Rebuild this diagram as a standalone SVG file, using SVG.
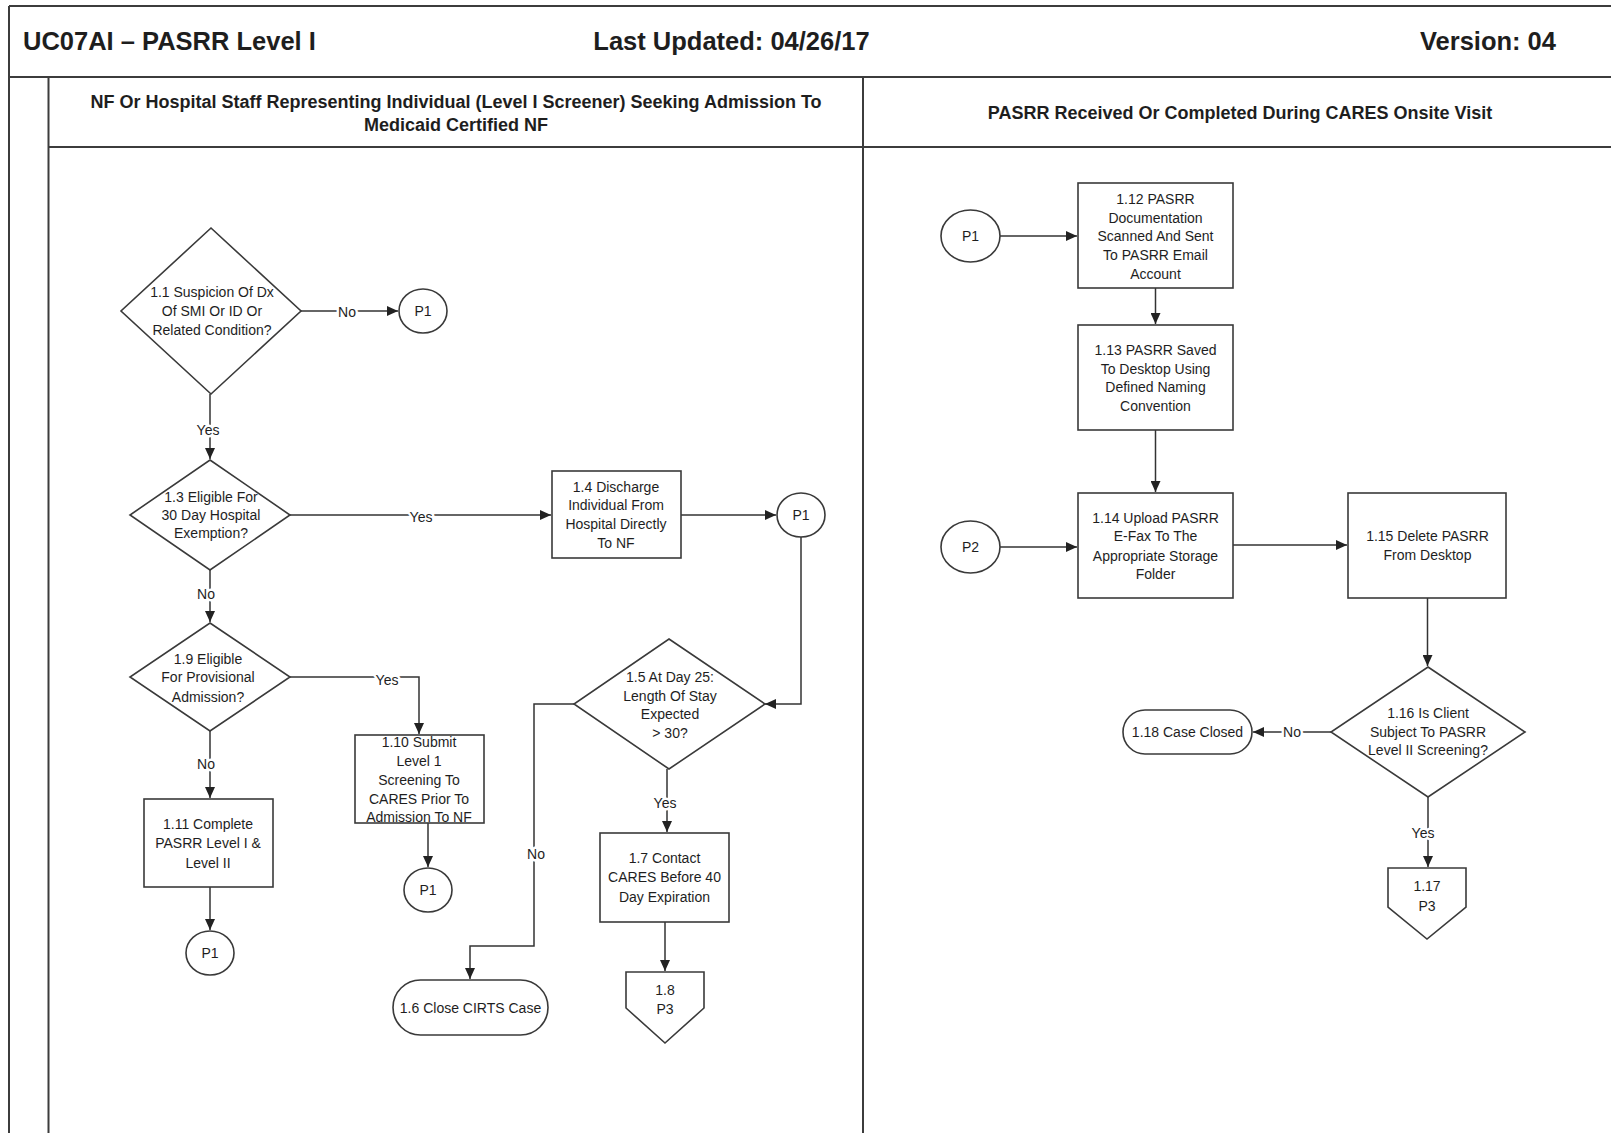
<svg xmlns="http://www.w3.org/2000/svg" width="1611" height="1133" viewBox="0 0 1611 1133">
<style>
.frame{stroke:#3c3c3c;stroke-width:2;fill:none}
.shape{fill:#fff;stroke:#3a3a3a;stroke-width:1.6}
.conn{fill:none;stroke:#333;stroke-width:1.5}
text{font-family:"Liberation Sans",Arial,sans-serif;fill:#1e1e1e}
.t{font-size:14px;text-anchor:middle;dominant-baseline:central}
.lbl{font-size:14px;text-anchor:middle;dominant-baseline:central;stroke:#fff;stroke-width:5px;paint-order:stroke;stroke-linejoin:round}
.title{font-size:25.5px;font-weight:bold}
.hdr{font-size:18px;font-weight:bold;text-anchor:middle;dominant-baseline:central}
</style>
<defs>
<marker id="arr" markerUnits="userSpaceOnUse" markerWidth="12" markerHeight="10" refX="11" refY="5" orient="auto">
<path d="M0,0 L11,5 L0,10 z" fill="#222"/>
</marker>
</defs>
<rect width="1611" height="1133" fill="#fff"/>
<g id="frame">
<line class="frame" x1="9" y1="6" x2="1611" y2="6"/>
<line class="frame" x1="9" y1="6" x2="9" y2="1133"/>
<line class="frame" x1="9" y1="77" x2="1611" y2="77"/>
<line class="frame" x1="48.5" y1="77" x2="48.5" y2="1133"/>
<line class="frame" x1="48.5" y1="147" x2="1611" y2="147"/>
<line class="frame" x1="863" y1="77" x2="863" y2="1133"/>
<text class="title" x="23" y="50">UC07AI – PASRR Level I</text>
<text class="title" x="731.5" y="50" text-anchor="middle">Last Updated: 04/26/17</text>
<text class="title" x="1556" y="50" text-anchor="end">Version: 04</text>
<text class="hdr" x="456" y="101.5">NF Or Hospital Staff Representing Individual (Level I Screener) Seeking Admission To</text>
<text class="hdr" x="456" y="124.5">Medicaid Certified NF</text>
<text class="hdr" x="1240" y="113">PASRR Received Or Completed During CARES Onsite Visit</text>
</g>
<g id="connectors">
<path class="conn" d="M301,311 H398" marker-end="url(#arr)"/>
<path class="conn" d="M210,394 V459" marker-end="url(#arr)"/>
<path class="conn" d="M290,515 H551" marker-end="url(#arr)"/>
<path class="conn" d="M681,515 H776" marker-end="url(#arr)"/>
<path class="conn" d="M801,537 V704 H765" marker-end="url(#arr)"/>
<path class="conn" d="M574,704 H534 V946 H470 V979" marker-end="url(#arr)"/>
<path class="conn" d="M667,769 V832" marker-end="url(#arr)"/>
<path class="conn" d="M665,922 V971" marker-end="url(#arr)"/>
<path class="conn" d="M210,570 V622" marker-end="url(#arr)"/>
<path class="conn" d="M290,677 H419 V734" marker-end="url(#arr)"/>
<path class="conn" d="M428,823 V867" marker-end="url(#arr)"/>
<path class="conn" d="M210,731 V798" marker-end="url(#arr)"/>
<path class="conn" d="M210,887 V930" marker-end="url(#arr)"/>
<path class="conn" d="M1000,236 H1077" marker-end="url(#arr)"/>
<path class="conn" d="M1155.5,288 V324" marker-end="url(#arr)"/>
<path class="conn" d="M1155.5,430 V492" marker-end="url(#arr)"/>
<path class="conn" d="M1000,547 H1077" marker-end="url(#arr)"/>
<path class="conn" d="M1233,545 H1347" marker-end="url(#arr)"/>
<path class="conn" d="M1427.5,598 V666" marker-end="url(#arr)"/>
<path class="conn" d="M1331,732 H1253" marker-end="url(#arr)"/>
<path class="conn" d="M1428,797 V867" marker-end="url(#arr)"/>
<text class="lbl" x="347" y="312">No</text>
<text class="lbl" x="208" y="430">Yes</text>
<text class="lbl" x="421" y="517">Yes</text>
<text class="lbl" x="536" y="854">No</text>
<text class="lbl" x="665" y="803">Yes</text>
<text class="lbl" x="206" y="594">No</text>
<text class="lbl" x="387" y="680">Yes</text>
<text class="lbl" x="206" y="764">No</text>
<text class="lbl" x="1292" y="732">No</text>
<text class="lbl" x="1423" y="833">Yes</text>
</g>
<g id="n1_1">
<polygon class="shape" points="211,228 301,311 211,394 121,311"/>
<text class="t" x="212" y="292">1.1 Suspicion Of Dx</text>
<text class="t" x="212" y="311">Of SMI Or ID Or</text>
<text class="t" x="212" y="330">Related Condition?</text>
</g>
<g id="p1_a">
<ellipse class="shape" cx="423" cy="311" rx="24" ry="22"/>
<text class="t" x="423" y="311">P1</text>
</g>
<g id="n1_3">
<polygon class="shape" points="210,460 290,515 210,570 130,515"/>
<text class="t" x="211" y="497">1.3 Eligible For</text>
<text class="t" x="211" y="515">30 Day Hospital</text>
<text class="t" x="211" y="533">Exemption?</text>
</g>
<g id="n1_4">
<rect class="shape" x="552" y="471" width="129" height="87"/>
<text class="t" x="616" y="487">1.4 Discharge</text>
<text class="t" x="616" y="505">Individual  From</text>
<text class="t" x="616" y="524">Hospital Directly</text>
<text class="t" x="616" y="543">To NF</text>
</g>
<g id="p1_b">
<ellipse class="shape" cx="801" cy="515" rx="24" ry="22"/>
<text class="t" x="801" y="515">P1</text>
</g>
<g id="n1_5">
<polygon class="shape" points="669,639 765,704 669,769 574,704"/>
<text class="t" x="670" y="677">1.5 At Day 25:</text>
<text class="t" x="670" y="696">Length Of Stay</text>
<text class="t" x="670" y="714">Expected</text>
<text class="t" x="670" y="733">&gt; 30?</text>
</g>
<g id="n1_6">
<rect class="shape" x="393" y="980" width="155" height="55" rx="27.5"/>
<text class="t" x="470.5" y="1007.5">1.6 Close CIRTS Case</text>
</g>
<g id="n1_7">
<rect class="shape" x="600" y="833" width="129" height="89"/>
<text class="t" x="664.5" y="858">1.7 Contact</text>
<text class="t" x="664.5" y="877">CARES Before 40</text>
<text class="t" x="664.5" y="897">Day Expiration</text>
</g>
<g id="n1_8">
<polygon class="shape" points="626,972 704,972 704,1008 665,1043 626,1008"/>
<text class="t" x="665" y="990">1.8</text>
<text class="t" x="665" y="1009">P3</text>
</g>
<g id="n1_9">
<polygon class="shape" points="210,623 290,677 210,731 130,677"/>
<text class="t" x="208" y="659">1.9 Eligible</text>
<text class="t" x="208" y="677">For Provisional</text>
<text class="t" x="208" y="697">Admission?</text>
</g>
<g id="n1_10">
<rect class="shape" x="355" y="735" width="129" height="88"/>
<text class="t" x="419" y="742">1.10 Submit</text>
<text class="t" x="419" y="761">Level 1</text>
<text class="t" x="419" y="780">Screening To</text>
<text class="t" x="419" y="799">CARES Prior To</text>
<text class="t" x="419" y="817">Admission To NF</text>
</g>
<g id="p1_d">
<ellipse class="shape" cx="428" cy="890" rx="24" ry="22"/>
<text class="t" x="428" y="890">P1</text>
</g>
<g id="n1_11">
<rect class="shape" x="144" y="799" width="129" height="88"/>
<text class="t" x="208" y="824">1.11 Complete</text>
<text class="t" x="208" y="843">PASRR Level I &amp;</text>
<text class="t" x="208" y="863">Level II</text>
</g>
<g id="p1_e">
<ellipse class="shape" cx="210" cy="953" rx="24" ry="22"/>
<text class="t" x="210" y="953">P1</text>
</g>
<g id="p1_f">
<ellipse class="shape" cx="970.5" cy="236" rx="29.5" ry="26"/>
<text class="t" x="970.5" y="236">P1</text>
</g>
<g id="n1_12">
<rect class="shape" x="1078" y="183" width="155" height="105"/>
<text class="t" x="1155.5" y="199">1.12 PASRR</text>
<text class="t" x="1155.5" y="218">Documentation</text>
<text class="t" x="1155.5" y="236">Scanned And Sent</text>
<text class="t" x="1155.5" y="255">To PASRR Email</text>
<text class="t" x="1155.5" y="274">Account</text>
</g>
<g id="n1_13">
<rect class="shape" x="1078" y="325" width="155" height="105"/>
<text class="t" x="1155.5" y="350">1.13 PASRR Saved</text>
<text class="t" x="1155.5" y="369">To Desktop Using</text>
<text class="t" x="1155.5" y="387">Defined Naming</text>
<text class="t" x="1155.5" y="406">Convention</text>
</g>
<g id="n1_14">
<rect class="shape" x="1078" y="493" width="155" height="105"/>
<text class="t" x="1155.5" y="518">1.14 Upload PASRR</text>
<text class="t" x="1155.5" y="536">E-Fax To The</text>
<text class="t" x="1155.5" y="556">Appropriate Storage</text>
<text class="t" x="1155.5" y="574">Folder</text>
</g>
<g id="p2">
<ellipse class="shape" cx="970.5" cy="547" rx="29.5" ry="26"/>
<text class="t" x="970.5" y="547">P2</text>
</g>
<g id="n1_15">
<rect class="shape" x="1348" y="493" width="158" height="105"/>
<text class="t" x="1427.5" y="536">1.15 Delete PASRR</text>
<text class="t" x="1427.5" y="555">From Desktop</text>
</g>
<g id="n1_16">
<polygon class="shape" points="1428,667 1525,732 1428,797 1331,732"/>
<text class="t" x="1428" y="713">1.16 Is Client</text>
<text class="t" x="1428" y="732">Subject To PASRR</text>
<text class="t" x="1428" y="750">Level II Screening?</text>
</g>
<g id="n1_18">
<rect class="shape" x="1123" y="710" width="129" height="44" rx="22"/>
<text class="t" x="1187.5" y="732">1.18 Case Closed</text>
</g>
<g id="n1_17">
<polygon class="shape" points="1388,868 1466,868 1466,907 1427,939 1388,907"/>
<text class="t" x="1427" y="886">1.17</text>
<text class="t" x="1427" y="906">P3</text>
</g>
</svg>
